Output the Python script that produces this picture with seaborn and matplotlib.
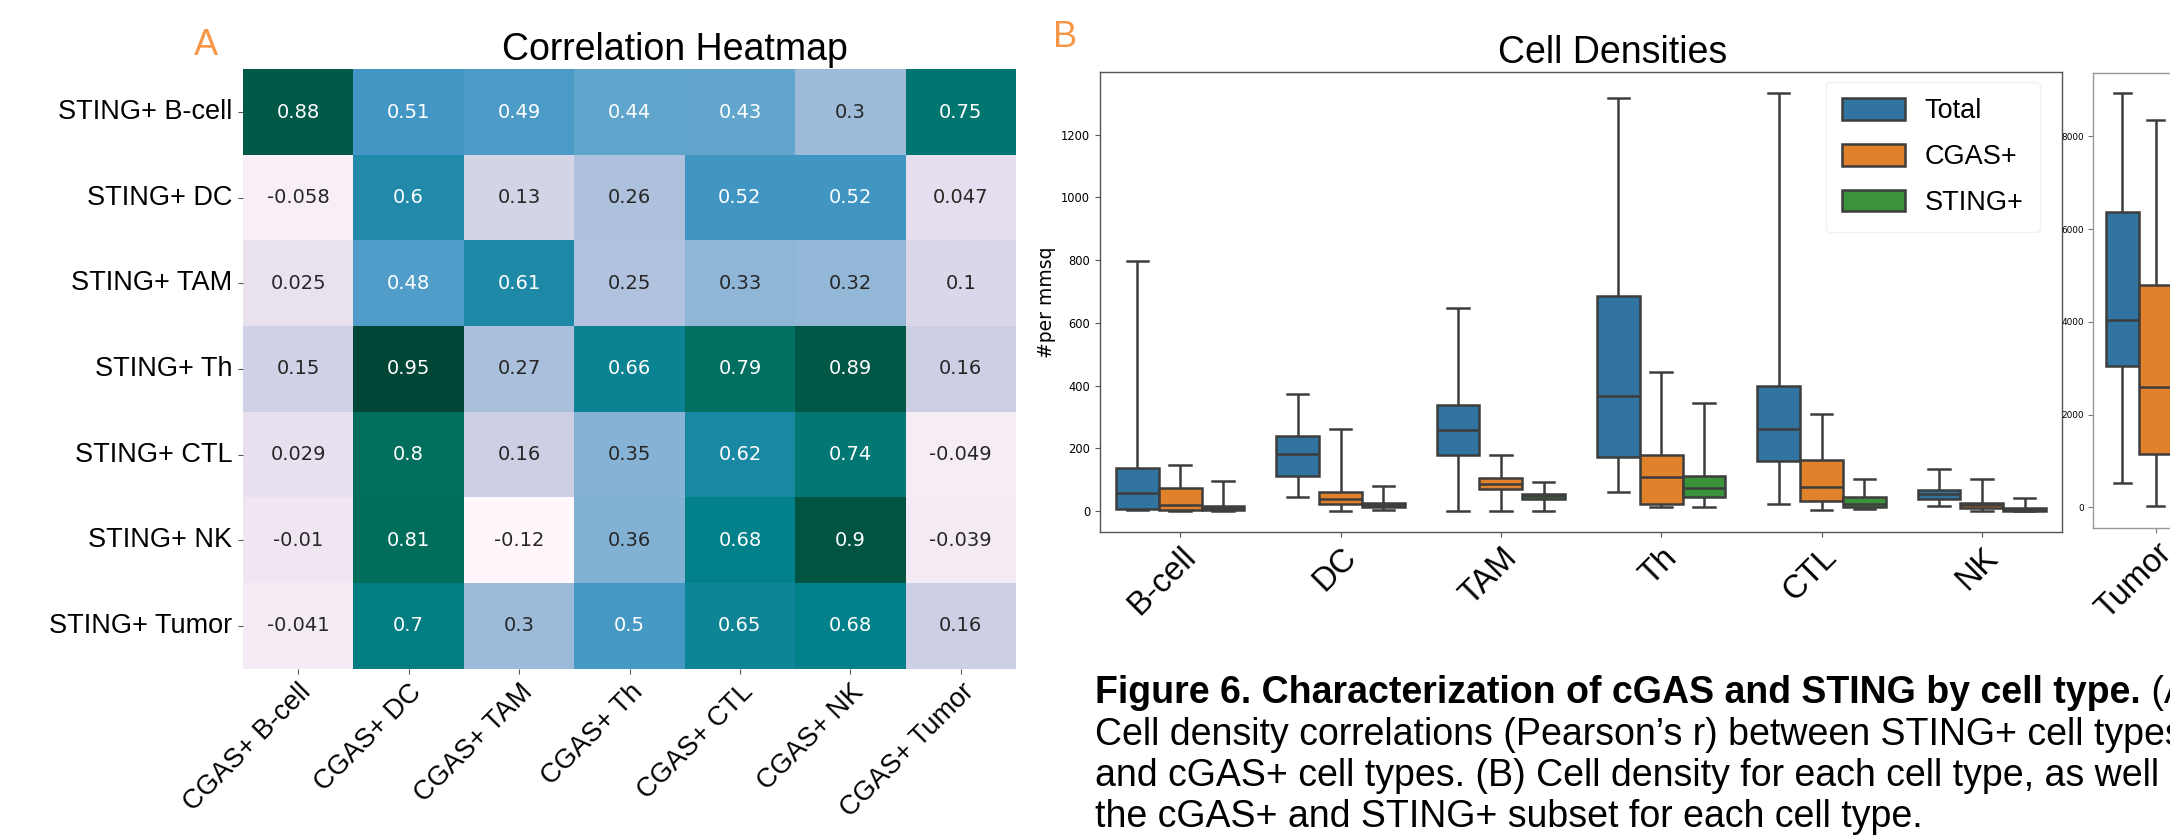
import numpy as np
import pandas as pd
import matplotlib
matplotlib.use("Agg")
import matplotlib.pyplot as plt
import seaborn as sns

# ---------------- data ----------------
sting_labels = ["STING+ B-cell", "STING+ DC", "STING+ TAM", "STING+ Th",
                "STING+ CTL", "STING+ NK", "STING+ Tumor"]
cgas_labels = ["CGAS+ B-cell", "CGAS+ DC", "CGAS+ TAM", "CGAS+ Th",
               "CGAS+ CTL", "CGAS+ NK", "CGAS+ Tumor"]
corr_bcell = [0.88, 0.51, 0.49, 0.44, 0.43, 0.3, 0.75]
corr_dc = [-0.058, 0.6, 0.13, 0.26, 0.52, 0.52, 0.047]
corr_tam = [0.025, 0.48, 0.61, 0.25, 0.33, 0.32, 0.1]
corr_th = [0.15, 0.95, 0.27, 0.66, 0.79, 0.89, 0.16]
corr_ctl = [0.029, 0.8, 0.16, 0.35, 0.62, 0.74, -0.049]
corr_nk = [-0.01, 0.81, -0.12, 0.36, 0.68, 0.9, -0.039]
corr_tumor = [-0.041, 0.7, 0.3, 0.5, 0.65, 0.68, 0.16]

cell_types = ["B-cell", "DC", "TAM", "Th", "CTL", "NK"]
series = ["Total", "CGAS+", "STING+"]
# five-number summaries per box: [min, q1, median, q3, max]
total_stats = [[3, 7, 57, 137, 796], [44, 113, 182, 239, 374],
               [0, 179, 259, 339, 648], [60, 172, 367, 686, 1317],
               [23, 161, 262, 400, 1333], [17, 38, 53, 67, 135]]
cgas_stats = [[0, 2, 19, 74, 147], [0, 22, 38, 61, 262],
              [0, 72, 85, 105, 178], [14, 24, 108, 179, 443],
              [5, 31, 78, 162, 311], [0, 8.5, 18, 24.5, 101]]
sting_stats = [[0, 2, 10, 16, 97], [4, 12, 18, 27, 81],
               [0, 38, 47, 55, 94], [14, 44, 75, 111, 344],
               [8, 14, 24, 44, 103], [0, 1, 5, 8.6, 43]]
tumor_total = [523, 3049, 4047, 6379, 8926]
tumor_cgas = [21, 1141, 2597, 4786, 8342]
tumor_sting = [0, 300, 900, 2000, 5200]

caption_bold = "Figure 6. Characterization of cGAS and STING by cell type."
caption_rest = " (A)"
caption_lines = ["Cell density correlations (Pearson\u2019s r) between STING+ cell types",
                 "and cGAS+ cell types. (B) Cell density for each cell type, as well as",
                 "the cGAS+ and STING+ subset for each cell type."]

# ---------------- figure ----------------
W, H = 2170, 835
plt.rcParams['font.family'] = ['DejaVu Sans']
fig = plt.figure(figsize=(W / 100, H / 100), dpi=100)


def rect(l, t, r, b):
    return [l / W, 1 - b / H, (r - l) / W, (b - t) / H]


SANS = 'Liberation Sans'
palette = ['#1f77b4', '#ff7f0e', '#2ca02c']
edge = '#3d3d3d'

# ---- heatmap ----
corr = pd.DataFrame([corr_bcell, corr_dc, corr_tam, corr_th, corr_ctl, corr_nk, corr_tumor],
                    index=sting_labels, columns=cgas_labels)
ax_h = fig.add_axes(rect(243, 69.3, 1016, 668.5))
sns.heatmap(corr, ax=ax_h, cmap="PuBuGn", annot=True, fmt=".2g", cbar=False,
            annot_kws={"fontsize": 14, "family": "DejaVu Sans"})
ax_h.set_xticklabels(cgas_labels, rotation=45, ha='right', va='top',
                     rotation_mode='anchor', fontsize=19.5, family=SANS)
ax_h.set_yticklabels(sting_labels, rotation=0, fontsize=19.5, family=SANS)
ax_h.tick_params(length=3.5, color='#555555', pad=4)
ax_h.set_xlabel('')
ax_h.set_ylabel('')
ax_h.set_title("Correlation Heatmap", x=0.559, pad=6.7, fontsize=27, family=SANS)

# ---- box plot ----
rows = []
for ct, t, c, s in zip(cell_types, total_stats, cgas_stats, sting_stats):
    for name, vals in zip(series, (t, c, s)):
        for v in vals:
            rows.append((ct, name, v))
df = pd.DataFrame(rows, columns=["cell", "type", "value"])

rows_t = []
for name, vals in zip(series, (tumor_total, tumor_cgas, tumor_sting)):
    for v in vals:
        rows_t.append(("Tumor", name, v))
df_t = pd.DataFrame(rows_t, columns=["cell", "type", "value"])

ax_b = fig.add_axes(rect(1100, 72, 2062, 532))
sns.boxplot(data=df, x="cell", y="value", hue="type", order=cell_types,
            hue_order=series, palette=palette, saturation=0.75, whis=(0, 100),
            showfliers=False, linecolor=edge, linewidth=1.8, ax=ax_b)
ax_b.set_xlabel('')
ax_b.set_ylabel('#per mmsq', fontsize=13.5, family='DejaVu Sans')
ax_b.yaxis.set_label_coords(-0.046, 0.5)
ax_b.set_xticks(range(len(cell_types)))
ax_b.set_xticklabels(cell_types, rotation=45, ha='right', va='top',
                     rotation_mode='anchor', fontsize=23.5, family=SANS)
ax_b.tick_params(axis='y', labelsize=8.3, color='#555555')
ax_b.tick_params(axis='x', color='#555555')
for sp in ax_b.spines.values():
    sp.set_color('#555555')
    sp.set_linewidth(1.0)
ax_b.set_title("Cell Densities", x=0.533, pad=6.3, fontsize=27, family=SANS)

sns.move_legend(ax_b, loc='upper left', bbox_to_anchor=(1826 / W, 1 - 82 / H),
                bbox_transform=fig.transFigure, title=None, frameon=True,
                prop={'family': SANS, 'size': 19.5}, handlelength=2.3,
                handleheight=0.85, handletextpad=0.75, borderpad=0.6,
                labelspacing=0.72, borderaxespad=0)
leg = ax_b.get_legend()
leg.get_frame().set_edgecolor('#f0f0f0')
leg.get_frame().set_alpha(0.9)

ax_t = fig.add_axes(rect(2093.3, 72.7, 2218.3, 528))
sns.boxplot(data=df_t, x="cell", y="value", hue="type", hue_order=series,
            palette=palette, saturation=0.75, whis=(0, 100), showfliers=False,
            linecolor=edge, linewidth=1.8, legend=False, ax=ax_t)
ax_t.set_xlabel('')
ax_t.set_ylabel('')
ax_t.set_yticks([0, 2000, 4000, 6000, 8000])
ax_t.set_xticks([0])
ax_t.set_xticklabels(["Tumor"], rotation=45, ha='right', va='top',
                     rotation_mode='anchor', fontsize=23.5, family=SANS)
ax_t.tick_params(axis='y', labelsize=6.4, color='#777777')
ax_t.tick_params(axis='x', color='#777777')
for sp in ax_t.spines.values():
    sp.set_color('#999999')
    sp.set_linewidth(1.0)

# ---- panel letters ----
fig.text(194 / W, 1 - 55 / H, "A", fontsize=26, family=SANS, color='#F79646', va='baseline')
fig.text(1053 / W, 1 - 46.7 / H, "B", fontsize=26, family=SANS, color='#F79646', va='baseline')

# ---- caption ----
x0 = 1095 / W
t1 = fig.text(x0, 1 - 703.4 / H, caption_bold, fontsize=27, family=SANS,
              fontweight='bold', va='baseline')
fig.canvas.draw()
bb = t1.get_window_extent(renderer=fig.canvas.get_renderer())
fig.text(bb.x1 / W, 1 - 703.4 / H, caption_rest, fontsize=27, family=SANS, va='baseline')
for i, line in enumerate(caption_lines):
    fig.text(x0, 1 - (744.7 + 41.3 * i) / H, line, fontsize=27, family=SANS, va='baseline')

fig.savefig("out.png", dpi=100)
